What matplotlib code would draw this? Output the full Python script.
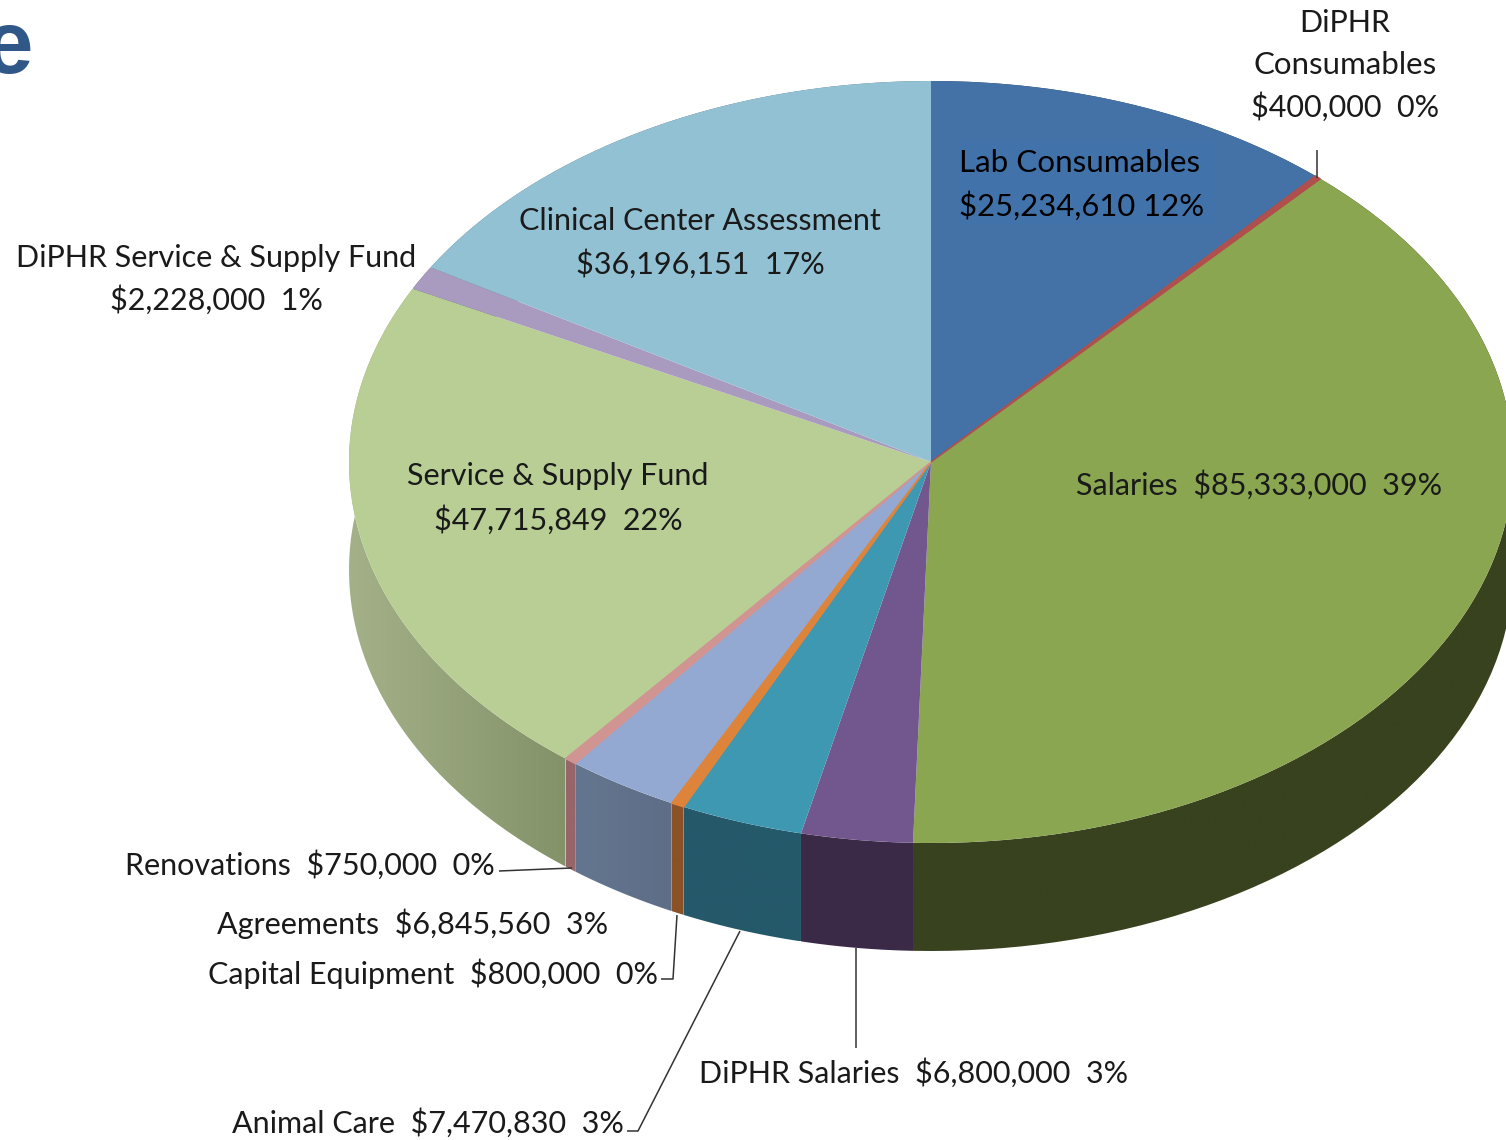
import numpy as np
import matplotlib
matplotlib.use("Agg")
import matplotlib.pyplot as plt
from matplotlib.colors import to_rgb
from matplotlib.patches import Rectangle, Polygon

plt.rcParams['font.family'] = ['Lato', 'DejaVu Sans']

# Slices, clockwise from the top
categories = ['Lab Consumables', 'DiPHR Consumables', 'Salaries', 'DiPHR Salaries', 'Animal Care',
              'Capital Equipment', 'Agreements', 'Renovations', 'Service & Supply Fund',
              'DiPHR Service & Supply Fund', 'Clinical Center Assessment']
values = [25234610, 400000, 85333000, 6800000, 7470830, 800000, 6845560, 750000, 47715849,
          2228000, 36196151]
percents = [12, 0, 39, 3, 3, 0, 3, 0, 22, 1, 17]

top_colors = ['#4471a6', '#b04f4c', '#8aa650', '#72568e', '#3f98b2', '#dd843a',
              '#94a9d1', '#d09492', '#b9ce95', '#a99bbf', '#93c1d4']
# side wall colour at the right and left end of each slice
side_right = ['#2a4464', '#6a2f2d', '#38421e', '#3b2a47', '#24596a', '#8a5226',
              '#5f6d87', '#96666a', '#84926a', '#6a6078', '#5a7580']
side_left = ['#2a4464', '#6a2f2d', '#38421e', '#3b2a47', '#26596a', '#8a5226',
             '#64768f', '#96666a', '#a4b188', '#6a6078', '#5a7580']
thin_slices = [1, 5, 7]

# ellipse of the pie top in image pixels
cx, cy, rx, ry = 931, 462, 582, 381
depth = 108 / ry
W, H = 1506, 1140

fig = plt.figure(figsize=(W / 100, H / 100), dpi=100, facecolor='white')
ax = fig.add_axes([0, 0, 1, 1])

# side walls: a left-right colour ramp clipped to the band under each slice
fractions = np.cumsum([0] + values) / sum(values)
for i in range(len(values)):
    thetas = np.linspace(fractions[i], fractions[i + 1], 80) * 2 * np.pi
    xs, ys = np.sin(thetas), np.cos(thetas)
    band = np.column_stack([np.r_[xs, xs[::-1]], np.r_[ys, ys[::-1] - depth]])
    ramp = np.linspace(to_rgb(side_left[i]), to_rgb(side_right[i]), 64)[np.newaxis, :, :]
    im = ax.imshow(ramp, extent=[xs.min(), xs.max(), band[:, 1].min(), band[:, 1].max()],
                   aspect='auto', interpolation='bilinear', zorder=1)
    clip = Polygon(band, closed=True, transform=ax.transData, fc='none', ec='none')
    ax.add_patch(clip)
    im.set_clip_path(clip)

wedges, _ = ax.pie(values, colors=top_colors, startangle=90, counterclock=False, radius=1,
                   wedgeprops={'linewidth': 0, 'zorder': 2})
for i in thin_slices:
    wedges[i].set_edgecolor(top_colors[i])
    wedges[i].set_linewidth(1.0)
    wedges[i].set_zorder(3)
ax.set_aspect('auto')
ax.set_xlim(-cx / rx, (W - cx) / rx)
ax.set_ylim((cy - H) / ry, cy / ry)
ax.axis('off')

# overlay in image pixels for the text and leader lines
ov = fig.add_axes([0, 0, 1, 1], facecolor='none')
ov.set_xlim(0, W)
ov.set_ylim(H, 0)
ov.axis('off')

ov.text(33, 73, 'e', ha='right', va='baseline', fontsize=64, fontweight='bold',
        family='Liberation Sans', color='#2f5788')

ov.add_patch(Rectangle((957, 141), 258, 83, color='#4272aa', lw=0))

leaders = [([1317, 1317], [150, 178]),
           ([499, 572], [871, 868]),
           ([661, 673, 677], [979, 979, 915]),
           ([627, 638, 740], [1131, 1131, 931]),
           ([856, 856], [948, 1048])]
for lx, ly in leaders:
    ov.plot(lx, ly, color='#333333', lw=1.1, solid_capstyle='butt')


def money(i):
    return f"${values[i]:,}"


def pct(i):
    return f"{percents[i]}%"


fs = 22
tc = '#1a1a1a'


def put(x, y, s, ha='center', color=tc, size=fs):
    ov.text(x, y - 1, s, ha=ha, va='center_baseline', fontsize=size, color=color)


put(959, 162, categories[0], ha='left', color='black', size=22.6)
put(959, 204, f"{money(0)} {pct(0)}", ha='left', color='black', size=22.3)
put(1345, 22, 'DiPHR')
put(1345, 64, 'Consumables', size=22.5)
put(1345, 105, f"{money(1)}  {pct(1)}")
put(1259, 483, f"{categories[2]}  {money(2)}  {pct(2)}")
put(914, 1071, f"{categories[3]}  {money(3)}  {pct(3)}")
put(624, 1121, f"{categories[4]}  {money(4)}  {pct(4)}", ha='right')
put(658, 972, f"{categories[5]}  {money(5)}  {pct(5)}", ha='right')
put(608, 922, f"{categories[6]}  {money(6)}  {pct(6)}", ha='right')
put(495, 863, f"{categories[7]}  {money(7)}  {pct(7)}", ha='right')
put(558, 475, categories[8])
put(558, 518, f"{money(8)}  {pct(8)}")
put(216, 256, categories[9])
put(216, 298, f"{money(9)}  {pct(9)}")
put(700, 219, categories[10])
put(700, 262, f"{money(10)}  {pct(10)}")

fig.savefig('out.png', dpi=100)
